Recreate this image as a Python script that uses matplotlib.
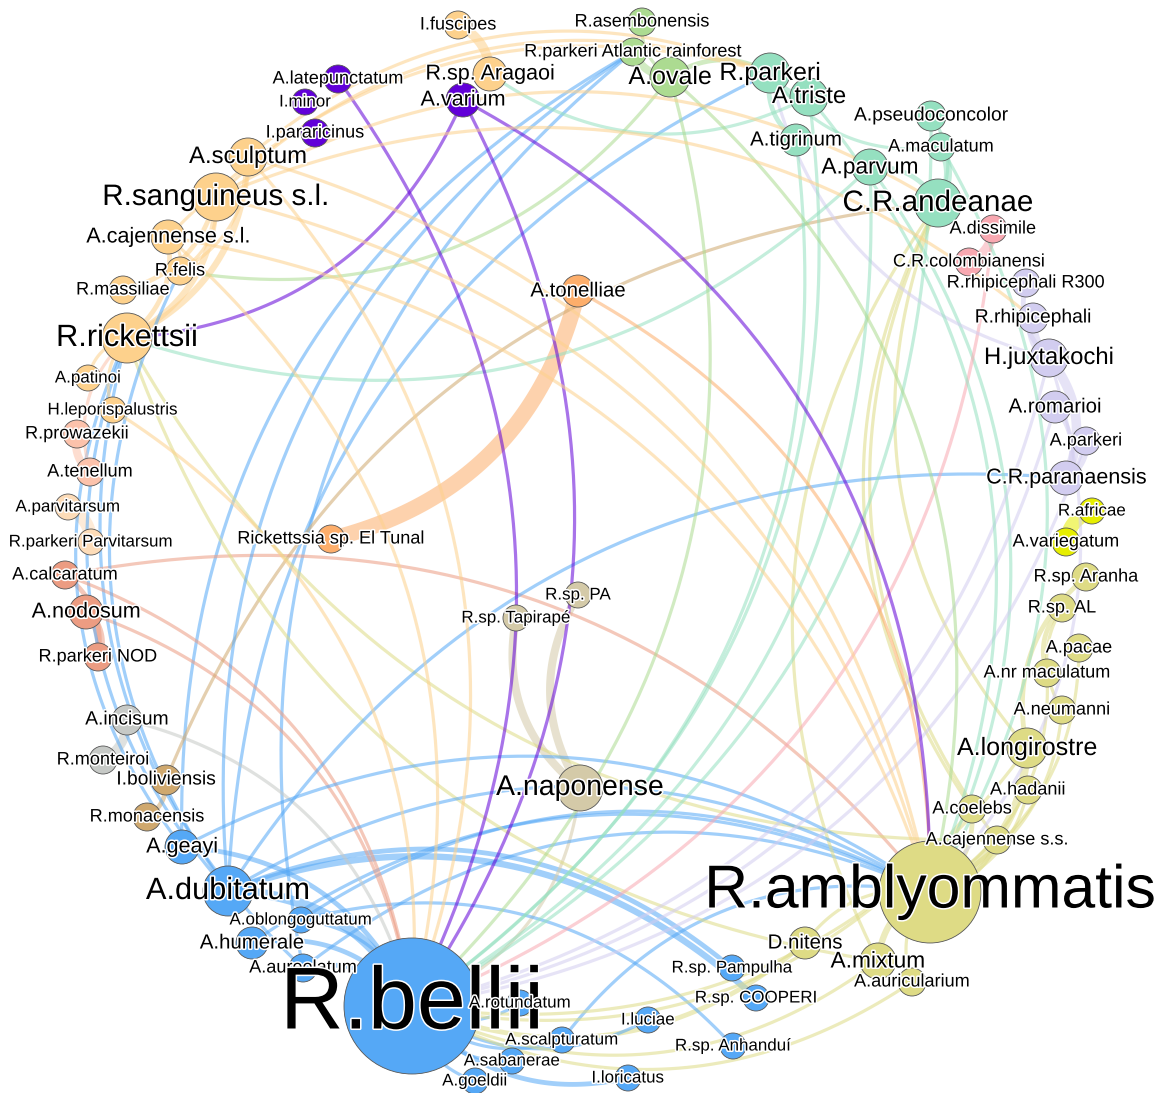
import numpy as np
import matplotlib
matplotlib.use("Agg")
import matplotlib.pyplot as plt
from matplotlib.patches import Circle
import matplotlib.patheffects as pe

plt.rcParams['font.family'] = ['Liberation Sans', 'DejaVu Sans']

# --- Nodos (posición en píxeles del lienzo, radio, grupo) ---
node_names = [
    "I.fuscipes", "R.sp. Aragaoi", "A.sculptum", "R.sanguineus s.l.", "A.cajennense s.l.",
    "R.felis", "R.massiliae", "R.rickettsii", "A.patinoi", "H.leporispalustris",
    "R.prowazekii", "A.tenellum", "A.parvitarsum", "R.parkeri Parvitarsum",
    "A.calcaratum", "A.nodosum", "R.parkeri NOD", "A.incisum", "R.monteiroi",
    "I.boliviensis", "R.monacensis", "A.geayi", "A.dubitatum", "A.oblongoguttatum",
    "A.humerale", "A.aureolatum", "R.bellii", "A.rotundatum", "A.scalpturatum",
    "A.sabanerae", "A.goeldii", "I.loricatus", "I.luciae", "R.sp. Anhanduí",
    "R.sp. COOPERI", "R.sp. Pampulha", "D.nitens", "A.mixtum", "A.auricularium",
    "R.amblyommatis", "A.cajennense s.s.", "A.coelebs", "A.hadanii", "A.longirostre",
    "A.neumanni", "A.nr maculatum", "A.pacae", "R.sp. AL", "R.sp. Aranha",
    "A.variegatum", "R.africae", "C.R.paranaensis", "A.parkeri", "A.romarioi",
    "H.juxtakochi", "R.rhipicephali", "R.rhipicephali R300", "C.R.colombianensi",
    "A.dissimile", "C.R.andeanae", "A.maculatum", "A.pseudoconcolor", "A.parvum",
    "A.tigrinum", "A.triste", "R.parkeri", "A.ovale", "R.parkeri Atlantic rainforest",
    "R.asembonensis", "A.varium", "A.latepunctatum", "I.minor", "I.pararicinus",
    "A.tonelliae", "Rickettssia sp. El Tunal", "R.sp. PA", "R.sp. Tapirapé", "A.naponense",
]
node_x = [458, 490, 248, 216, 168, 180, 123, 127, 88, 113,
          77, 90, 68, 91, 65, 86, 98, 127, 103,
          166, 147, 182, 228, 301, 252, 303, 412, 520, 562,
          512, 475, 628, 648, 733, 756, 732, 805, 878, 912,
          930, 997, 972, 1028, 1027, 1062, 1047, 1079, 1062, 1086,
          1066, 1092, 1066, 1086, 1055, 1049, 1033, 1026, 969,
          993, 938, 941, 931, 870, 796, 809, 770, 670, 633,
          642, 463, 338, 305, 315, 578, 331, 578, 516, 580]
node_y = [25, 74, 157, 197, 237, 271, 290, 338, 378, 410,
          434, 472, 507, 542, 575, 612, 657, 720, 760,
          780, 817, 847, 891, 920, 943, 968, 1006, 1003, 1040,
          1061, 1081, 1078, 1020, 1046, 998, 968, 943, 961, 982,
          892, 840, 809, 790, 748, 710, 673, 648, 608, 577,
          542, 511, 478, 441, 407, 358, 318, 283, 262,
          229, 203, 147, 116, 167, 140, 97, 73, 77, 52,
          22, 100, 79, 102, 133, 291, 539, 595, 618, 788]
node_r = [14, 17, 19, 24, 17, 14, 14, 25, 13, 13,
          14, 14, 13, 13, 14, 17, 14, 15, 14,
          15, 14, 17, 25, 13, 16, 14, 68, 13, 13,
          13, 13, 13, 13, 13, 13, 13, 16, 18, 14,
          51, 14, 14, 14, 20, 14, 14, 14, 14, 14,
          14, 13, 17, 14, 16, 19, 15, 14, 14,
          14, 24, 14, 15, 18, 16, 19, 20, 20, 14,
          14, 17, 14, 13, 14, 16, 14, 13, 13, 23]
node_group = ["nar", "nar", "nar", "nar", "nar", "nar", "nar", "nar", "nar", "nar",
              "sal", "sal", "mel", "mel", "cor", "cor", "cor", "gri", "gri",
              "ocr", "ocr", "azu", "azu", "azu", "azu", "azu", "azu", "azu", "azu",
              "azu", "azu", "azu", "azu", "azu", "azu", "azu", "oli", "oli", "oli",
              "oli", "oli", "oli", "oli", "oli", "oli", "oli", "oli", "oli", "oli",
              "ama", "ama", "lil", "lil", "lil", "lil", "lil", "lil", "ros",
              "ros", "men", "men", "men", "men", "men", "men", "men", "ver", "ver",
              "ver", "mor", "mor", "mor", "mor", "na2", "na2", "bei", "bei", "bei"]

group_colors = {
    "nar": "#fdd18c", "na2": "#fdae6b", "mor": "#6100d8", "ver": "#acdb91",
    "men": "#95e0c0", "ros": "#f8a8b1", "lil": "#d2cdf0", "ama": "#e6ee00",
    "oli": "#dedb85", "azu": "#55a8f6", "sal": "#fcc2ab", "mel": "#fddcb8",
    "cor": "#ec9c82", "gri": "#c6c9c6", "ocr": "#cfa86e", "bei": "#d4caa8",
}

# --- Aristas: garrapata -> rickettsia, peso ---
edge_tick = [
    "I.fuscipes", "A.sculptum", "A.sculptum", "A.sculptum", "A.sculptum", "A.sculptum",
    "R.sanguineus s.l.", "R.sanguineus s.l.", "R.sanguineus s.l.", "R.sanguineus s.l.",
    "R.sanguineus s.l.", "R.sanguineus s.l.", "R.sanguineus s.l.",
    "A.cajennense s.l.", "A.cajennense s.l.", "A.cajennense s.l.", "A.cajennense s.l.",
    "A.cajennense s.l.", "A.patinoi", "H.leporispalustris", "H.leporispalustris",
    "A.tonelliae", "A.tonelliae",
    "A.varium", "A.varium", "A.varium", "A.latepunctatum",
    "A.ovale", "A.ovale", "A.ovale", "A.ovale", "A.ovale", "A.ovale",
    "A.triste", "A.triste", "A.triste", "A.triste", "A.tigrinum", "A.tigrinum",
    "A.maculatum", "A.maculatum", "A.maculatum", "A.parvum", "A.parvum", "A.parvum", "A.parvum",
    "A.pseudoconcolor", "A.pseudoconcolor",
    "A.dissimile", "A.dissimile",
    "H.juxtakochi", "H.juxtakochi", "H.juxtakochi", "H.juxtakochi", "H.juxtakochi",
    "H.juxtakochi", "A.romarioi", "A.romarioi", "A.parkeri", "A.parkeri",
    "A.variegatum",
    "A.longirostre", "A.longirostre", "A.longirostre", "A.longirostre",
    "A.nr maculatum", "A.nr maculatum", "A.pacae", "A.neumanni", "A.neumanni",
    "A.hadanii", "A.coelebs", "A.coelebs", "A.coelebs",
    "A.cajennense s.s.", "A.cajennense s.s.", "A.cajennense s.s.",
    "D.nitens", "D.nitens", "A.mixtum", "A.mixtum", "A.mixtum", "A.mixtum",
    "A.auricularium", "A.auricularium",
    "A.dubitatum", "A.dubitatum", "A.dubitatum", "A.dubitatum", "A.dubitatum",
    "A.dubitatum", "A.dubitatum", "A.dubitatum", "A.dubitatum",
    "A.geayi", "A.geayi", "A.geayi", "A.geayi",
    "A.oblongoguttatum", "A.oblongoguttatum", "A.oblongoguttatum",
    "A.humerale", "A.humerale", "A.aureolatum", "A.aureolatum", "A.aureolatum",
    "A.aureolatum", "A.rotundatum", "A.scalpturatum", "A.scalpturatum",
    "A.sabanerae", "A.goeldii", "I.luciae", "I.loricatus",
    "A.tenellum", "A.tenellum", "A.parvitarsum", "A.nodosum", "A.nodosum",
    "A.calcaratum", "A.calcaratum", "A.calcaratum",
    "A.incisum", "A.incisum", "I.boliviensis", "I.boliviensis",
    "A.naponense", "A.naponense", "A.naponense",
]
edge_bact = [
    "R.sp. Aragaoi", "R.rickettsii", "R.bellii", "R.amblyommatis", "R.parkeri", "R.felis",
    "R.rickettsii", "R.massiliae", "R.felis", "R.rhipicephali",
    "C.R.andeanae", "R.parkeri", "R.amblyommatis",
    "R.rickettsii", "R.amblyommatis", "R.bellii", "R.parkeri",
    "R.felis", "R.rickettsii", "R.rickettsii", "R.bellii",
    "Rickettssia sp. El Tunal", "R.amblyommatis",
    "R.rickettsii", "R.bellii", "R.amblyommatis", "R.bellii",
    "R.parkeri Atlantic rainforest", "R.asembonensis", "R.parkeri", "R.bellii",
    "R.amblyommatis", "R.felis",
    "R.parkeri", "R.sp. Aragaoi", "R.bellii", "R.amblyommatis", "R.parkeri", "R.bellii",
    "C.R.andeanae", "R.parkeri", "R.amblyommatis",
    "C.R.andeanae", "R.rickettsii", "R.bellii", "R.amblyommatis",
    "C.R.andeanae", "R.bellii",
    "C.R.colombianensi", "R.bellii",
    "R.rhipicephali", "R.rhipicephali R300", "C.R.paranaensis", "R.parkeri", "R.bellii",
    "R.amblyommatis", "C.R.paranaensis", "R.bellii", "C.R.paranaensis", "R.bellii",
    "R.africae",
    "R.amblyommatis", "R.sp. Aranha", "R.bellii", "C.R.andeanae",
    "R.sp. AL", "R.amblyommatis", "R.amblyommatis", "R.amblyommatis", "R.sp. AL",
    "R.amblyommatis", "R.amblyommatis", "R.bellii", "C.R.andeanae",
    "R.amblyommatis", "R.rickettsii", "C.R.andeanae",
    "R.amblyommatis", "R.bellii", "R.amblyommatis", "R.rickettsii", "R.bellii", "C.R.andeanae",
    "R.amblyommatis", "R.bellii",
    "R.bellii", "R.sp. Pampulha", "R.sp. COOPERI", "R.parkeri",
    "R.parkeri Atlantic rainforest", "R.rickettsii", "R.amblyommatis",
    "C.R.paranaensis", "R.felis",
    "R.bellii", "R.amblyommatis", "R.rickettsii", "R.parkeri Atlantic rainforest",
    "R.bellii", "R.amblyommatis", "R.sp. Anhanduí",
    "R.bellii", "R.amblyommatis", "R.bellii", "R.parkeri Atlantic rainforest", "R.rickettsii",
    "R.amblyommatis", "R.bellii", "R.bellii", "R.amblyommatis",
    "R.bellii", "R.bellii", "R.bellii", "R.bellii",
    "R.prowazekii", "R.rickettsii", "R.parkeri Parvitarsum", "R.parkeri NOD", "R.bellii",
    "R.parkeri NOD", "R.amblyommatis", "R.bellii",
    "R.monteiroi", "R.bellii", "R.monacensis", "C.R.andeanae",
    "R.sp. Tapirapé", "R.sp. PA", "R.bellii",
]
edge_weight = [
    3, 2, 1, 1, 1, 1,
    2, 1.5, 1, 1,
    1, 1, 1,
    1.5, 1, 1, 1,
    1, 1, 1, 1,
    5, 1,
    1, 1, 1, 1,
    2.5, 1, 1.5, 1, 1, 1,
    2.5, 1, 1, 1, 1.5, 1,
    2.5, 1, 1, 1.5, 1, 1, 1,
    1, 1,
    3, 1,
    3.5, 1.5, 3, 1, 1,
    1, 1.5, 1, 2, 1,
    4.5,
    2.5, 1.5, 1, 1,
    1.5, 1, 1, 1, 1,
    1, 1.5, 1, 1,
    1.5, 1, 1,
    1, 1.5, 2, 1, 1, 1,
    1, 1,
    3, 1.5, 2, 1,
    1, 1, 1,
    1, 1,
    1.5, 1, 1, 1,
    1, 1, 1,
    1.5, 1, 1.5, 1, 1,
    1, 1, 1, 1,
    1, 1, 1, 1.5,
    2.5, 1, 4, 3, 1,
    1.5, 1, 1,
    3, 1, 1.5, 1,
    2.5, 2.5, 1,
]

W, H = 1163, 1093
fig = plt.figure(figsize=(W / 100, H / 100), dpi=100)
ax = fig.add_axes([0, 0, 1, 1])
ax.set_xlim(0, W)
ax.set_ylim(H, 0)
ax.set_aspect('equal')
ax.axis('off')

idx = {n: i for i, n in enumerate(node_names)}
px2pt = 72 / 100

# --- Dibujar aristas como arcos (Bezier cuadrática) ---
t = np.linspace(0, 1, 60)[:, None]
order = np.argsort(edge_weight)[::-1]
for k in order:
    a, b = idx[edge_tick[k]], idx[edge_bact[k]]
    p0 = np.array([node_x[a], node_y[a]], float)
    p2 = np.array([node_x[b], node_y[b]], float)
    d = p2 - p0
    c = (p0 + p2) / 2 + 0.3 * np.array([d[1], -d[0]])
    pts = (1 - t) ** 2 * p0 + 2 * t * (1 - t) * c + t ** 2 * p2
    ax.plot(pts[:, 0], pts[:, 1], color=group_colors[node_group[a]], alpha=0.55,
            lw=3.2 * edge_weight[k] * px2pt, solid_capstyle='round', zorder=1)

# --- Nodos ---
for i, n in enumerate(node_names):
    ax.add_patch(Circle((node_x[i], node_y[i]), node_r[i],
                        facecolor=group_colors[node_group[i]], edgecolor='#555555',
                        lw=0.6, zorder=2))

# --- Etiquetas (tamaño de letra según el radio) ---
for i, n in enumerate(node_names):
    r = node_r[i]
    fpx = 1.15 * r + 2 + 0.45 * max(0, r - 51)
    ax.text(node_x[i], node_y[i], n, ha='center', va='center',
            fontsize=fpx * px2pt, color='black', zorder=3,
            path_effects=[pe.withStroke(linewidth=2.2, foreground='white')])

fig.savefig("out.png", dpi=100)
